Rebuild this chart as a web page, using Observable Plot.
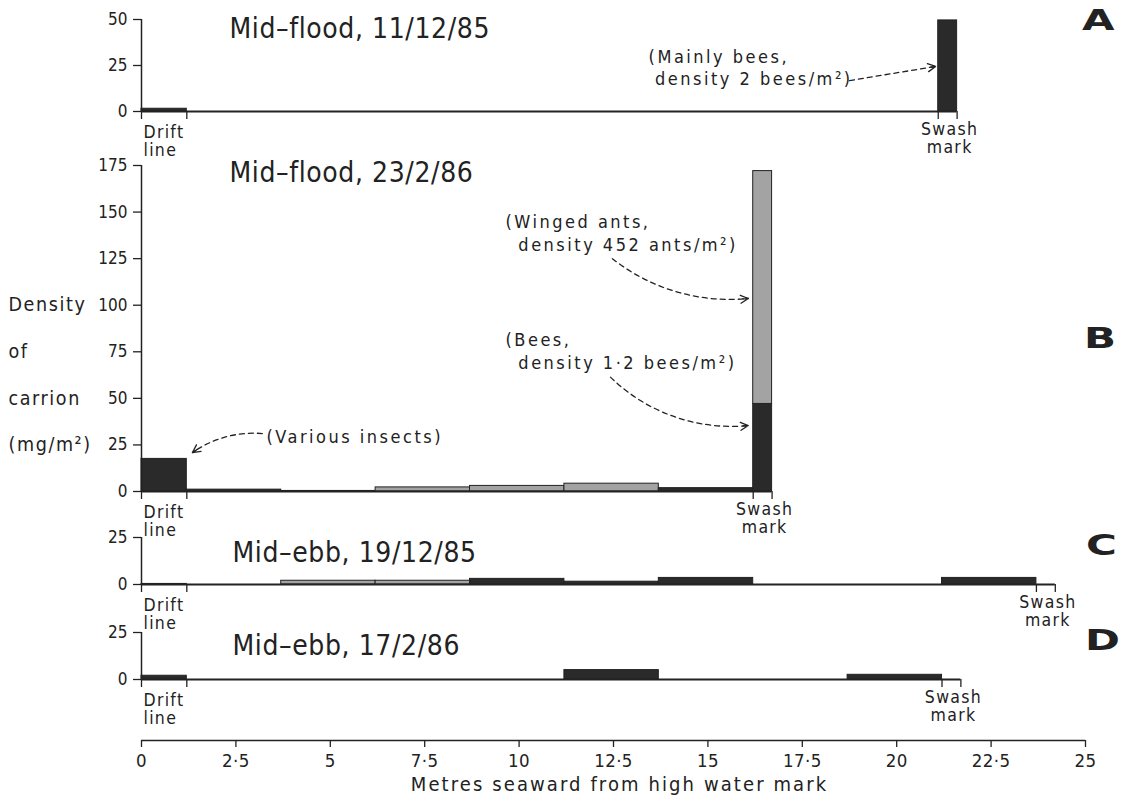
<!DOCTYPE html>
<html>
<head>
<meta charset="utf-8">
<script src="https://cdn.jsdelivr.net/npm/d3@7"></script>
<script src="https://cdn.jsdelivr.net/npm/@observablehq/plot@0.6"></script>
<style>
  html, body { margin: 0; padding: 0; background: #fff; }
  #chart { position: relative; width: 1125px; height: 802px; overflow: hidden; background: #fff; }
  #chart > svg { position: absolute; left: 0; font-stretch: condensed; }
  #chart g[font-size="18"] text { letter-spacing: 2.5px; }
  #chart g[font-size="17.5"] text { letter-spacing: 1.3px; }
  #chart g[font-size="18.5"] text { letter-spacing: 0.4px; }
  #chart g[font-size="19.5"] text { letter-spacing: 1.6px; }
  #chart g[font-size="20"] text { letter-spacing: 2.1px; }
  #chart g[font-size="28"] text { letter-spacing: 0.6px; }
  .letter { position: absolute; font-family: 'DejaVu Sans', sans-serif; font-weight: 900; font-size: 29px; line-height: 1; color: #222; transform: scaleX(1.45); transform-origin: 0 0; }
</style>
</head>
<body>
<div id="chart"></div>
<script>
// ---------- data ----------
const xTicks = [0, 2.5, 5, 7.5, 10, 12.5, 15, 17.5, 20, 22.5, 25];
const xTickLabels = ["0", "2·5", "5", "7·5", "10", "12·5", "15", "17·5", "20", "22·5", "25"];
const xTitle = "Metres seaward from high water mark";
const yTitleLines = ["Density", "of", "carrion", "(mg/m²)"];
const yTitleAt = [100, 75, 50, 25];
const driftWords = ["Drift", "line"];
const swashWords = ["Swash", "mark"];

const panelLetters = ["A", "B", "C", "D"];
const panelTitles = ["Mid–flood, 11/12/85", "Mid–flood, 23/2/86", "Mid–ebb, 19/12/85", "Mid–ebb, 17/2/86"];
const panelYMax = [50, 175, 25, 25];
const panelYTicks = [[0, 25, 50], [0, 25, 50, 75, 100, 125, 150, 175], [0, 25], [0, 25]];
const driftAt = [1.2, 1.2, 1.2, 1.2];
const swashFrom = [21.1, 16.2, 23.7, 21.2];
const swashTo = [21.6, 16.7, 24.2, 21.7];

// Panel A (mid-flood 11/12/85)
const aFrom = [0, 21.1];
const aTo = [1.2, 21.6];
const aValue = [1.5, 49.5];
const aShade = ["dark", "dark"];

// Panel B (mid-flood 23/2/86)
const bFrom = [0, 1.2, 3.7, 6.2, 8.7, 11.2, 13.7, 16.2];
const bTo = [1.2, 3.7, 6.2, 8.7, 11.2, 13.7, 16.2, 16.7];
const bValue = [17.5, 1.0, 0.3, 2.2, 3.0, 4.2, 1.8, 47];
const bShade = ["dark", "dark", "dark", "grey", "grey", "grey", "dark", "dark"];
const bAntsFrom = [16.2];
const bAntsTo = [16.7];
const bAntsValue = [125];

// Panel C (mid-ebb 19/12/85)
const cFrom = [0, 3.7, 6.2, 8.7, 11.2, 13.7, 21.2];
const cTo = [1.2, 6.2, 8.7, 11.2, 13.7, 16.2, 23.7];
const cValue = [0.3, 2.0, 2.0, 3.0, 1.5, 3.5, 3.5];
const cShade = ["dark", "grey", "grey", "dark", "dark", "dark", "dark"];

// Panel D (mid-ebb 17/2/86)
const dFrom = [0, 11.2, 18.7];
const dTo = [1.2, 13.7, 21.2];
const dValue = [2.0, 5.0, 2.5];
const dShade = ["dark", "dark", "dark"];

const notesA = ["(Mainly bees,", "density 2 bees/m²)"];
const notesAnts = ["(Winged ants,", "density 452 ants/m²)"];
const notesBees = ["(Bees,", "density 1·2 bees/m²)"];
const notesInsects = ["(Various insects)"];

// ---------- styling ----------
const INK = "#222";
const DARK = "#2a2a2a";
const GREY = "#a3a3a3";
const FONT = "'DejaVu Sans Condensed', 'DejaVu Sans', sans-serif";
const W = 1125, ML = 141, MR = 40;
const KX = (W - ML - MR) / 25;

function rowsOf(from, to, value, shade, base) {
  return from.map((f, i) => ({x1: f, x2: to[i], y1: base ? base[i] : 0, y2: (base ? base[i] : 0) + value[i], shade: shade[i]}));
}

function dashedArrow(a, ky, bend) {
  const chord = Math.hypot((a.x2 - a.x1) * KX, (a.y2 - a.y1) * ky);
  const o = {x1: "x1", y1: "y1", x2: "x2", y2: "y2", bend, stroke: INK, strokeWidth: 1.3};
  return [
    Plot.arrow([a], {...o, headLength: 0, strokeDasharray: "5,4"}),
    Plot.arrow([a], {...o, headLength: 10, headAngle: 55, insetStart: Math.max(0, chord - 5)})
  ];
}

function makePanel(cfg) {
  const {idx, top, height, mt, mb, rows} = cfg;
  const yMax = panelYMax[idx];
  const ky = (height - mt - mb) / yMax;
  const swashMid = (swashFrom[idx] + swashTo[idx]) / 2;
  const marks = [
    Plot.rect(rows, {x1: "x1", x2: "x2", y1: "y1", y2: "y2", fill: d => d.shade === "grey" ? GREY : DARK, stroke: INK, strokeWidth: 1}),
    Plot.ruleY([0], {x1: 0, x2: swashTo[idx], stroke: INK, strokeWidth: 2.2}),
    Plot.ruleX([0], {y1: 0, y2: yMax, stroke: INK, strokeWidth: 1.5}),
    Plot.ruleX([0, driftAt[idx], swashFrom[idx], swashTo[idx]], {y1: 0, y2: 0, insetBottom: -8, stroke: INK, strokeWidth: 1.3}),
    Plot.axisY(panelYTicks[idx], {tickSize: 8, tickPadding: 6, fontSize: 17, label: null, color: INK, strokeWidth: 1.3}),
    Plot.text([panelTitles[idx]], {frameAnchor: "top-left", dx: cfg.titleDx, dy: cfg.titleDy, textAnchor: "start", lineAnchor: "middle", fontSize: 28, fill: INK}),
    Plot.text([driftWords[0]], {x: 0, y: 0, dx: 2, dy: 21, textAnchor: "start", lineAnchor: "middle", fontSize: 17.5, fill: INK}),
    Plot.text([driftWords[1]], {x: 0, y: 0, dx: 2, dy: 39, textAnchor: "start", lineAnchor: "middle", fontSize: 17.5, fill: INK}),
    Plot.text([swashWords[0]], {x: swashMid, y: 0, dx: 2, dy: 18, textAnchor: "middle", lineAnchor: "middle", fontSize: 17.5, fill: INK}),
    Plot.text([swashWords[1]], {x: swashMid, y: 0, dx: 2, dy: 36, textAnchor: "middle", lineAnchor: "middle", fontSize: 17.5, fill: INK}),
    ...(cfg.extra ? cfg.extra(ky) : [])
  ];
  const svg = Plot.plot({
    width: W, height, marginLeft: ML, marginRight: MR, marginTop: mt, marginBottom: mb,
    x: {domain: [0, 25], axis: null},
    y: {domain: [0, yMax]},
    color: {type: "identity"},
    style: {background: "transparent", overflow: "visible", fontFamily: FONT, color: INK},
    marks
  });
  svg.style.top = top + "px";
  return svg;
}

const chart = document.getElementById("chart");

// Panel A
chart.appendChild(makePanel({
  idx: 0, top: 0, height: 160, mt: 19, mb: 49, titleDx: 88, titleDy: 10,
  rows: rowsOf(aFrom, aTo, aValue, aShade),
  extra: ky => [
    Plot.text(notesA, {x: [13.43, 13.6], y: [29.3, 17.4], textAnchor: "start", fontSize: 18, fill: INK}),
    ...dashedArrow({x1: 18.75, y1: 16.8, x2: 21.03, y2: 24.5}, ky, 0)
  ]
}));

// Panel B
chart.appendChild(makePanel({
  idx: 1, top: 150, height: 390, mt: 15, mb: 49, titleDx: 88, titleDy: 8,
  rows: [
    ...rowsOf(bFrom, bTo, bValue, bShade),
    ...rowsOf(bAntsFrom, bAntsTo, bAntsValue, ["grey"], [bValue[bValue.length - 1]])
  ],
  extra: ky => [
    Plot.text(yTitleLines, {y: yTitleAt, frameAnchor: "left", dx: -133, textAnchor: "start", fontSize: 19.5, fill: INK}),
    Plot.text(notesAnts, {x: [9.64, 9.98], y: [144.4, 132], textAnchor: "start", fontSize: 18, fill: INK}),
    Plot.text(notesBees, {x: [9.64, 9.98], y: [81, 68.7], textAnchor: "start", fontSize: 18, fill: INK}),
    Plot.text(notesInsects, {x: [3.31], y: [29], textAnchor: "start", fontSize: 18, fill: INK}),
    ...dashedArrow({x1: 12.47, y1: 125, x2: 16.07, y2: 103.6}, ky, -22),
    ...dashedArrow({x1: 12.42, y1: 61.4, x2: 16.07, y2: 35.4}, ky, -25),
    ...dashedArrow({x1: 3.2, y1: 31.1, x2: 1.35, y2: 20.9}, ky, -20)
  ]
}));

// Panel C
chart.appendChild(makePanel({
  idx: 2, top: 520, height: 100, mt: 17, mb: 36, titleDx: 91, titleDy: 16,
  rows: rowsOf(cFrom, cTo, cValue, cShade)
}));

// Panel D
chart.appendChild(makePanel({
  idx: 3, top: 615, height: 110, mt: 17, mb: 46, titleDx: 91, titleDy: 14,
  rows: rowsOf(dFrom, dTo, dValue, dShade)
}));

// Shared x axis
const axisSvg = Plot.plot({
  width: W, height: 82, marginLeft: ML, marginRight: MR, marginTop: 10, marginBottom: 62,
  x: {domain: [0, 25]},
  y: {domain: [0, 1], axis: null},
  style: {background: "transparent", overflow: "visible", fontFamily: FONT, color: INK},
  marks: [
    Plot.ruleY([0], {stroke: INK, strokeWidth: 1.6}),
    Plot.axisX(xTicks, {tickSize: 7, tickPadding: 6, fontSize: 18.5, label: null, color: INK, strokeWidth: 1.3,
      tickFormat: d => xTickLabels[xTicks.indexOf(d)]}),
    Plot.text([xTitle], {frameAnchor: "bottom", dx: 6, dy: 50, fontSize: 20, fill: INK})
  ]
});
axisSvg.style.top = "720px";
chart.appendChild(axisSvg);

// Panel letters
const letterPos = [[1082, 6], [1084, 324], [1086, 531], [1085, 626]];
panelLetters.forEach((L, i) => {
  const d = document.createElement("div");
  d.className = "letter";
  d.textContent = L;
  d.style.left = letterPos[i][0] + "px";
  d.style.top = letterPos[i][1] + "px";
  chart.appendChild(d);
});
</script>
</body>
</html>
